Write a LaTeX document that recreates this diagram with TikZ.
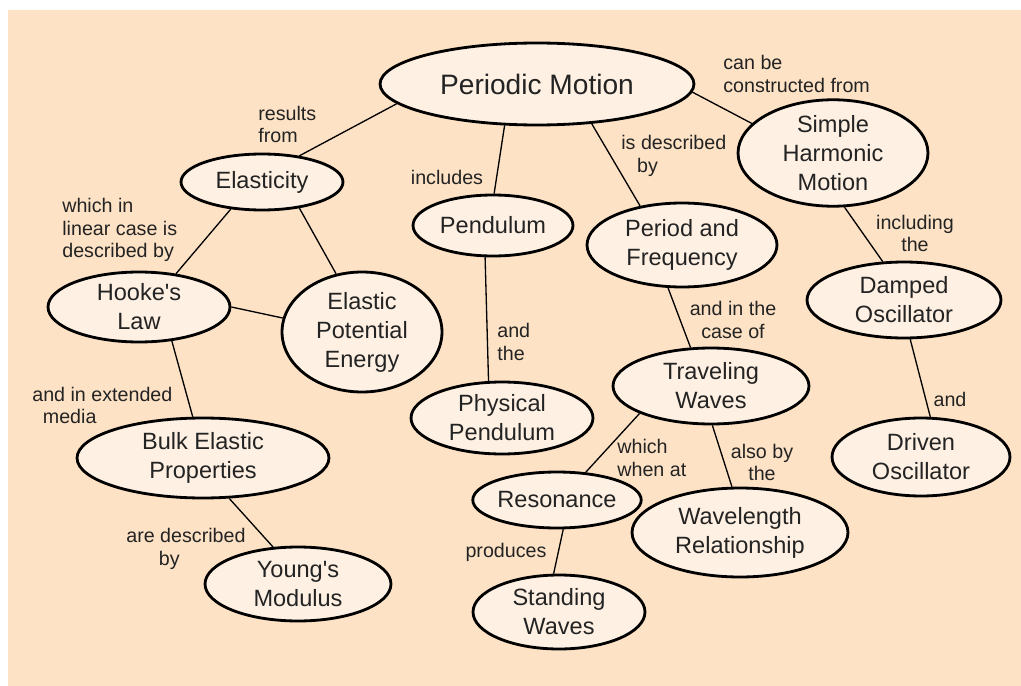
\documentclass[tikz,border=0pt]{standalone}
\usepackage{fontspec}
\setmainfont{Liberation Sans}[Ligatures=TeXOff]
\usetikzlibrary{shapes.geometric}
\definecolor{bgpeach}{RGB}{253,226,197}
\definecolor{ellfill}{RGB}{254,240,226}
\definecolor{txt}{RGB}{35,35,35}
\tikzset{
  concept/.style 2 args={ellipse, draw=black, line width=1.6pt, fill=ellfill, inner sep=0pt,
     minimum width=#1*0.4mm, minimum height=#2*0.4mm, align=center, text=txt,
     font=\fontsize{13.4pt}{16.5pt}\selectfont},
  lbl/.style={inner sep=0pt, text=txt, font=\fontsize{11.2pt}{13pt}\selectfont},
  lblL/.style={lbl, align=left, anchor=west},
  lblC/.style={lbl, align=center},
  link/.style={draw=black, line width=0.75pt}
}
\begin{document}
\begin{tikzpicture}[x=0.02cm,y=-0.02cm]
\useasboundingbox (0,0) rectangle (1021,686);
\fill[white] (0,0) rectangle (1021,686);
\fill[bgpeach] (8,10) rectangle (1021,686);

\node[concept={157}{41}, font=\fontsize{16pt}{19pt}\selectfont] (pm) at (537,84) {Periodic Motion};
\node[concept={81}{28}] (elast) at (262,182) {Elasticity};
\node[concept={80}{30.5}] (pend) at (493,225.5) {Pendulum};
\node[concept={95}{42}] (pf) at (682,245) {Period and\\Frequency};
\node[concept={95}{50}] (shm) at (833,153) {Simple\\Harmonic\\Motion};
\node[concept={91}{35}] (hooke) at (139,307) {Hooke's\\Law};
\node[concept={80}{60}] (epe) at (362,332) {Elastic\\Potential\\Energy};
\node[concept={97}{38}] (damped) at (904,300) {Damped\\Oscillator};
\node[concept={91}{36}] (phys) at (502,418) {Physical\\Pendulum};
\node[concept={98}{38}] (tw) at (711,386) {Traveling\\Waves};
\node[concept={126}{40}] (bulk) at (203,458) {Bulk Elastic\\Properties};
\node[concept={89}{39}] (driven) at (921,457) {Driven\\Oscillator};
\node[concept={80}{28}] (res) at (557,500) {Resonance};
\node[concept={108}{44.5}] (wr) at (740,532.5) {Wavelength\\Relationship};
\node[concept={93}{37}] (young) at (298,584) {Young's\\Modulus};
\node[concept={86}{37}] (sw) at (559,612) {Standing\\Waves};

\draw[link] (pm.188.5) -- (elast.35);
\draw[link] (elast.221) -- (hooke.42);
\draw[link] (elast.-35) -- (epe.114.6);
\draw[link] (hooke.0) -- (epe.170);
\draw[link] (hooke.-46) -- (bulk.104);
\draw[link] (bulk.-57) -- (young.124);
\draw[link] (pm.232.7) -- (pend.88);
\draw[link] (pend.256) -- (phys.110);
\draw[link] (pm.-36) -- (pf.137);
\draw[link] (pm.-3) -- (shm.160);
\draw[link] (shm.-78) -- (damped.119);
\draw[link] (damped.-81.5) -- (driven.77);
\draw[link] (pf.252) -- (tw.118);
\draw[link] (tw.201) -- (res.44);
\draw[link] (tw.-88.6) -- (wr.100);
\draw[link] (res.-78) -- (sw.98);

\node[lblL] (l1) at (258,124.5) {results\\from};
\node[lblL] (l2) at (62,230) {which in\\linear case is\\described by};
\node[lblL] (l3) at (32,405.5) {and in extended\\\hspace*{6pt}media};
\node[lblL] (l4) at (126,549) {are described\\\hspace*{18.5pt}by};
\node[lblC] (l5) at (447,177) {includes};
\node[lblL] (l6) at (621,155.5) {is described\\\hspace*{9pt}by};
\node[lblL] (l7) at (723,74) {can be\\constructed from};
\node[lblC] (l8) at (915,233.5) {including\\the};
\node[lblL] (l9) at (497,342) {and\\the};
\node[lblC] (l10) at (733,320) {and in the\\case of};
\node[lblL] (l11) at (617,458) {which\\when at};
\node[lblC] (l12) at (762,462.5) {also by\\the};
\node[lblC] (l13) at (506,552) {produces};
\node[lblC] (l14) at (950,399) {and};
\end{tikzpicture}
\end{document}
